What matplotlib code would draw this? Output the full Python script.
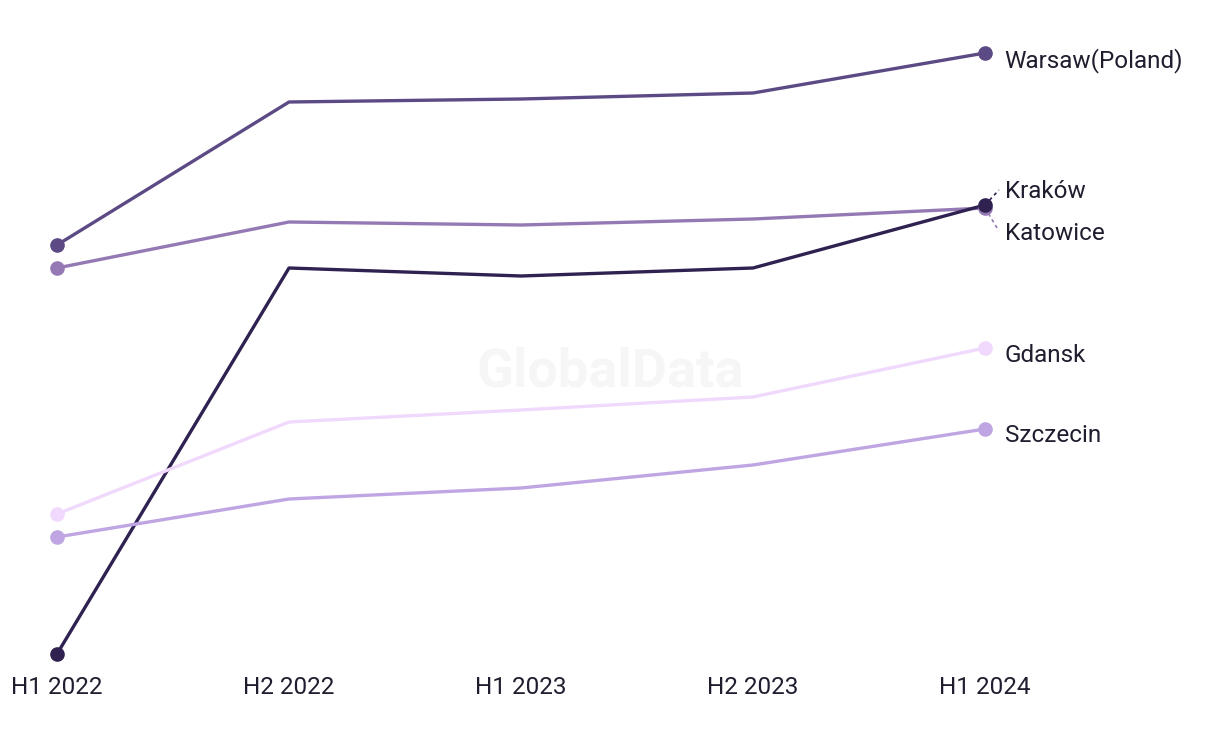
import matplotlib.pyplot as plt

# data (arbitrary index units, y axis is hidden in the original)
periods = ['H1 2022', 'H2 2022', 'H1 2023', 'H2 2023', 'H1 2024']
warsaw = [455, 598, 601, 607, 647]
katowice = [432, 478, 475, 481, 492]
krakow = [46, 432, 424, 432, 495]
gdansk = [186, 278, 290, 303, 352]
szczecin = [163, 201, 212, 235, 271]

series = [
    ('Warsaw(Poland)', warsaw, '#5c4a85'),
    ('Katowice', katowice, '#9579b5'),
    ('Kraków', krakow, '#2f2150'),
    ('Gdansk', gdansk, '#f0d9fc'),
    ('Szczecin', szczecin, '#bfa6e3'),
]

plt.rcParams['font.family'] = ['Roboto', 'DejaVu Sans']
text_color = '#1f1d2e'

fig = plt.figure(figsize=(12.2, 7.44), dpi=100)
ax = fig.add_axes([0, 1 - 665 / 744, 1, 665 / 744])

x = list(range(len(periods)))
for name, vals, color in series:
    ax.plot(x, vals, color=color, lw=2.4, solid_capstyle='round', zorder=3)
    ax.plot([x[0], x[-1]], [vals[0], vals[-1]], 'o', color=color, ms=9.5, zorder=4)

# end labels
label_y = {'Warsaw(Poland)': 639, 'Kraków': 508, 'Katowice': 467, 'Gdansk': 345, 'Szczecin': 265}
for name, vals, color in series:
    ax.text(4.085, label_y[name], name, fontsize=17.5, color=text_color,
            va='center', ha='left')

# dashed leaders for the overlapping pair
ax.plot([4.0, 4.06], [krakow[-1], 510], ls=(0, (2, 2)), color='#2f2150', lw=1.2)
ax.plot([4.0, 4.06], [katowice[-1], 469], ls=(0, (2, 2)), color='#9579b5', lw=1.2)

# watermark
ax.text(2.383, 328, 'GlobalData', fontsize=39, fontweight='bold', color='#f6f6f6',
        ha='center', va='center', zorder=0)

ax.set_xlim(-57 / 232, (1220 - 57) / 232)
ax.set_ylim(35, 700)
ax.set_xticks(x)
ax.set_xticklabels(periods, fontsize=17.5, color=text_color)
ax.tick_params(axis='x', length=0, pad=8)
ax.set_yticks([])
for s in ax.spines.values():
    s.set_visible(False)

fig.savefig('out.png', dpi=100)
